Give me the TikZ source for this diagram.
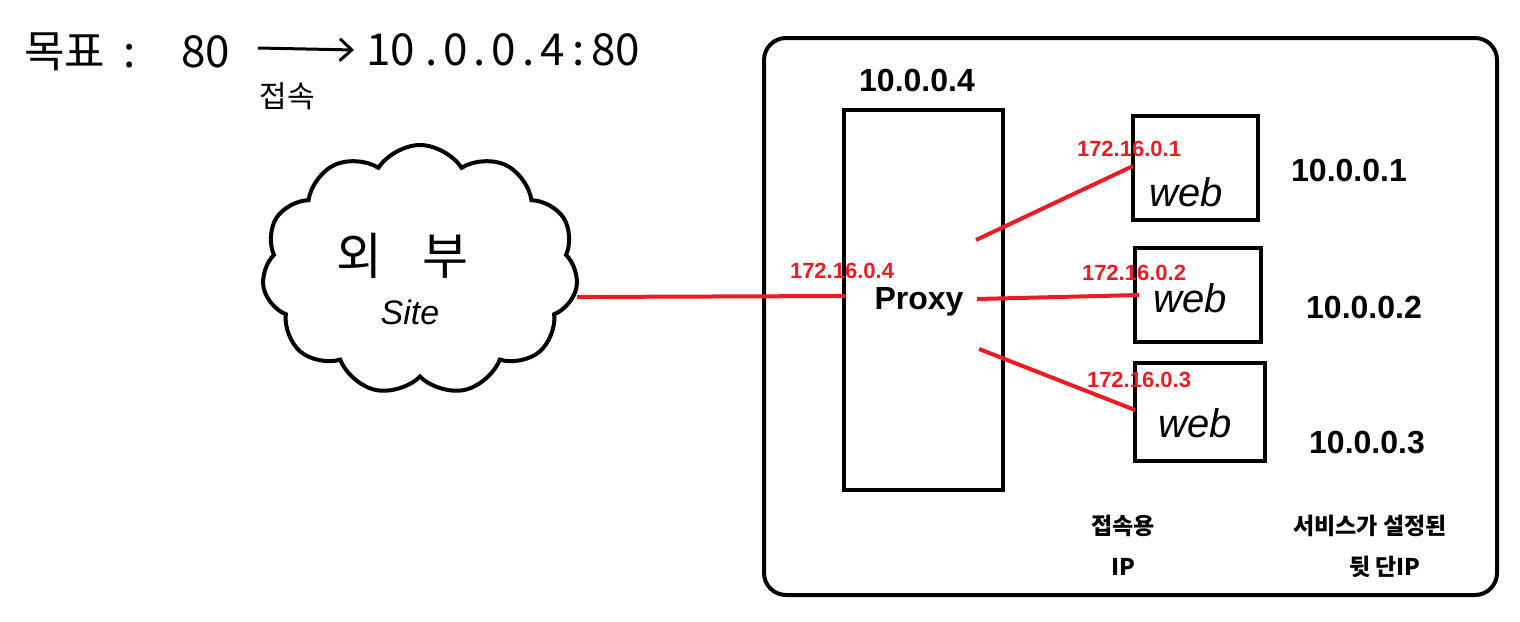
\documentclass[tikz,border=0pt]{standalone}
\usepackage{fontspec}
\setmainfont{Liberation Sans}
\newfontfamily\kr{Noto Sans CJK KR}
\usetikzlibrary{shapes.symbols,arrows.meta}
\definecolor{pred}{RGB}{237,28,36}
\tikzset{
  blk/.style={draw=black, line width=4pt},
  link/.style={draw=pred, line width=4pt},
  bip/.style={font=\bfseries\fontsize{32}{36}\selectfont, inner sep=0pt},
  rip/.style={font=\bfseries\fontsize{22}{26}\selectfont, text=pred, inner sep=0pt},
  webtxt/.style={font=\itshape\fontsize{40}{44}\selectfont, inner sep=0pt},
  hand/.style={font=\kr\fontsize{44}{48}\selectfont, inner sep=0pt},
  krlab/.style={font=\kr\bfseries\fontsize{23}{27}\selectfont, inner sep=0pt},
}
\begin{document}
\begin{tikzpicture}[x=1pt,y=-1pt]
\useasboundingbox (0,0) rectangle (1520,621);
% outer frame
\draw[blk, rounded corners=22pt] (764,38) rectangle (1497,595);
% proxy
\node[blk, minimum width=159pt, minimum height=380pt, inner sep=0pt] (proxy) at (923.5,300) {};
\node[bip] (proxylab) at (919,302) {Proxy};
\node[bip] (vip) at (917,80) {10.0.0.4};
% web boxes
\node[blk, minimum width=125pt, minimum height=104pt, inner sep=0pt] (w1) at (1195,168) {};
\node[blk, minimum width=126pt, minimum height=94pt, inner sep=0pt] (w2) at (1198,295) {};
\node[blk, minimum width=130pt, minimum height=98pt, inner sep=0pt] (w3) at (1200,412) {};
\node[webtxt] (wt1) at (1186,192) {web};
\node[webtxt] (wt2) at (1190,298) {web};
\node[webtxt] (wt3) at (1195,423) {web};
% back-end ips
\node[bip] (b1) at (1349,170) {10.0.0.1};
\node[bip] (b2) at (1364,307) {10.0.0.2};
\node[bip] (b3) at (1367,443) {10.0.0.3};
% cloud
\node[cloud, draw, line width=4pt, cloud puffs=11, cloud puff arc=115, aspect=1.3,
      minimum width=316pt, minimum height=250pt, inner sep=0pt] (cloud) at (420,270) {};
\node[font=\kr\fontsize{50}{54}\selectfont, inner sep=0pt] (ext) at (402,256) {외\hspace{40pt}부};
\node[font=\itshape\fontsize{34}{40}\selectfont, inner sep=0pt] (site) at (410,312) {Site};
% connector anchors
\coordinate (c0) at (577,297);
\coordinate (p0) at (845,296);
\coordinate (p1) at (976,240);
\coordinate (p2) at (977,299);
\coordinate (p3) at (979,349);
\coordinate (e1) at (1133,166);
\coordinate (e2) at (1139,295);
\coordinate (e3) at (1135,410);
\draw[link] (c0) -- (p0);
\draw[link] (p1) -- (e1);
\draw[link] (p2) -- (e2);
\draw[link] (p3) -- (e3);
% red ip labels
\node[rip] (r4) at (842,271) {172.16.0.4};
\node[rip] (r1) at (1129,149) {172.16.0.1};
\node[rip] (r2) at (1134,273) {172.16.0.2};
\node[rip] (r3) at (1139,380) {172.16.0.3};
% bottom labels
\node[krlab] (l1) at (1123,526) {접속용};
\node[krlab] (l2) at (1123,567) {IP};
\node[krlab] (l3) at (1370,526) {서비스가 설정된};
\node[krlab] (l4) at (1385,567) {뒷 단IP};
% top-left handwriting
\node[hand, anchor=west] (goal) at (24,52) {목표\hspace{18pt}:\hspace{46pt}80};
\node[hand, anchor=west] (dest) at (366,50) {10\hspace{10pt}.\hspace{6pt}0\hspace{6pt}.\hspace{6pt}0\hspace{6pt}.\hspace{6pt}4\hspace{8pt}:\hspace{6pt}80};
\coordinate (a0) at (258,48);
\coordinate (a1) at (354,50);
\draw[line width=3pt, -{Straight Barb[length=12pt,width=22pt]}] (a0) -- (a1);
\node[font=\kr\fontsize{30}{34}\selectfont, inner sep=0pt] (conn) at (287,96) {접속};
\end{tikzpicture}
\end{document}
